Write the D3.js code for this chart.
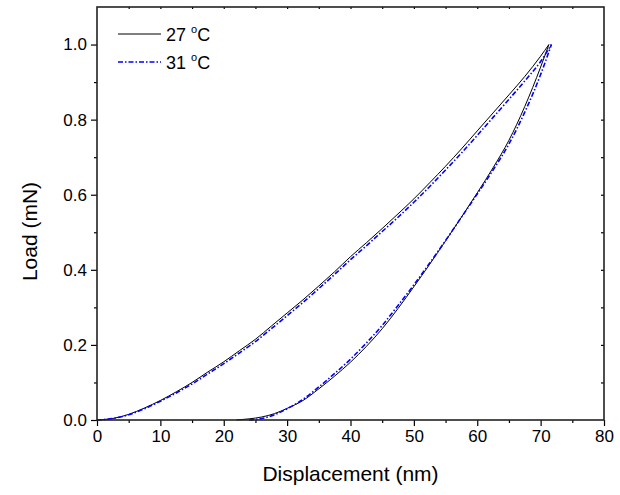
<!DOCTYPE html>
<html>
<head>
<meta charset="utf-8">
<script src="https://cdn.jsdelivr.net/npm/d3@7"></script>
<style>
  body { margin: 0; background: #fff; }
  text { font-family: "Liberation Sans", Arial, sans-serif; fill: #000; }
</style>
</head>
<body>
<div id="chart"></div>
<script>
const width = 620;
const height = 495;

// 27 °C loading / unloading, [displacement nm, load mN]
const load27 = [[0,0],[2.5,0.004],[5,0.015],[7.5,0.032],[10,0.052],[12.5,0.075],[15,0.1],[17.5,0.128],[20,0.155],[22.5,0.185],[25,0.215],[27.5,0.25],[30,0.285],[32.5,0.32],[35,0.357],[37.5,0.395],[40,0.435],[42.5,0.472],[45,0.51],[47.5,0.549],[50,0.589],[52.5,0.632],[55,0.676],[57.5,0.722],[60,0.77],[62.5,0.818],[65,0.866],[67.5,0.915],[70,0.969],[71.3,1.0]];
const unload27 = [[22,0],[24,0.003],[26,0.008],[28,0.017],[30,0.031],[32.5,0.052],[35,0.083],[37.5,0.117],[40,0.154],[42.5,0.196],[45,0.243],[47.5,0.297],[50,0.355],[52.5,0.415],[55,0.477],[57.5,0.54],[60,0.605],[62.5,0.672],[65,0.745],[67.5,0.835],[70,0.94],[71.3,1.0]];

// 31 °C
const load31 = [[0,0],[2.5,0.004],[5,0.014],[7.5,0.03],[10,0.05],[12.5,0.072],[15,0.096],[17.5,0.123],[20,0.15],[22.5,0.179],[25,0.209],[27.5,0.243],[30,0.278],[32.5,0.313],[35,0.35],[37.5,0.388],[40,0.427],[42.5,0.464],[45,0.502],[47.5,0.54],[50,0.58],[52.5,0.622],[55,0.666],[57.5,0.711],[60,0.758],[62.5,0.806],[65,0.854],[67.5,0.903],[70,0.955],[71.7,1.0]];
const unload31 = [[24,0],[26,0.004],[28,0.014],[30,0.03],[32.5,0.055],[35,0.088],[37.5,0.124],[40,0.162],[42.5,0.205],[45,0.252],[47.5,0.305],[50,0.36],[52.5,0.418],[55,0.478],[57.5,0.54],[60,0.602],[62.5,0.666],[65,0.735],[67.5,0.82],[70,0.92],[71.7,1.0]];

const xTicks = [0, 10, 20, 30, 40, 50, 60, 70, 80];
const yTicks = [0, 0.2, 0.4, 0.6, 0.8, 1.0];
const legendLabels = ["27 ", "31 "];

const margin = {left: 97, right: 16, top: 7, bottom: 75};

const svg = d3.select("#chart").append("svg")
    .attr("width", width)
    .attr("height", height);

const x = d3.scaleLinear().domain([0, 80]).range([margin.left, width - margin.right]);
const y = d3.scaleLinear().domain([0, 1.1]).range([height - margin.bottom, margin.top]);

const line = d3.line().x(d => x(d[0])).y(d => y(d[1])).curve(d3.curveMonotoneX);

// curves
[load27, unload27].forEach(d => {
    svg.append("path").datum(d)
        .attr("fill", "none").attr("stroke", "#000").attr("stroke-width", 1)
        .attr("d", line);
});
[load31, unload31].forEach(d => {
    svg.append("path").datum(d)
        .attr("fill", "none").attr("stroke", "#0000ff").attr("stroke-width", 1.6)
        .attr("stroke-dasharray", "5,2,1.5,2")
        .attr("d", line);
});

// axes
const x0 = x.range()[0], x1 = x.range()[1];
const y0 = y.range()[0], y1 = y.range()[1];

svg.append("g").attr("transform", `translate(0,${y0})`)
    .call(d3.axisBottom(x).tickValues(d3.range(5, 80, 10)).tickSize(3).tickFormat(""))
    .call(g => g.select(".domain").remove());
svg.append("g").attr("transform", `translate(0,${y0})`)
    .call(d3.axisBottom(x).tickValues(xTicks).tickSize(6).tickPadding(4).tickFormat(d3.format("d")))
    .call(g => g.select(".domain").remove())
    .call(g => g.selectAll("text").attr("font-size", 17));

svg.append("g").attr("transform", `translate(${x0},0)`)
    .call(d3.axisLeft(y).tickValues(d3.range(0.1, 1.1, 0.2)).tickSize(3).tickFormat(""))
    .call(g => g.select(".domain").remove());
svg.append("g").attr("transform", `translate(${x0},0)`)
    .call(d3.axisLeft(y).tickValues(yTicks).tickSize(6).tickPadding(4).tickFormat(d3.format(".1f")))
    .call(g => g.select(".domain").remove())
    .call(g => g.selectAll("text").attr("font-size", 17));

// mirrored small inward ticks on top and right
svg.append("g").attr("transform", `translate(0,${y1})`)
    .call(d3.axisBottom(x).tickValues(d3.range(5, 80, 5)).tickSize(2).tickFormat(""))
    .call(g => g.select(".domain").remove());
svg.append("g").attr("transform", `translate(${x1},0)`)
    .call(d3.axisLeft(y).tickValues(d3.range(0.1, 1.1, 0.1)).tickSize(3).tickFormat(""))
    .call(g => g.select(".domain").remove());

svg.selectAll(".tick line").attr("stroke", "#000").attr("stroke-width", 1.2);

// frame
svg.append("rect")
    .attr("x", x0).attr("y", y1)
    .attr("width", x1 - x0).attr("height", y0 - y1)
    .attr("fill", "none").attr("stroke", "#222").attr("stroke-width", 1.6);

// axis titles
svg.append("text")
    .attr("x", (x0 + x1) / 2).attr("y", 481)
    .attr("text-anchor", "middle").attr("font-size", 21)
    .text("Displacement (nm)");
svg.append("text")
    .attr("transform", `translate(37,${(y0 + y1) / 2 + 18}) rotate(-90)`)
    .attr("text-anchor", "middle").attr("font-size", 21)
    .text("Load (mN)");

// legend
const legend = svg.append("g");
const styles = [
    {stroke: "#000", width: 1, dash: null},
    {stroke: "#0000ff", width: 1.6, dash: "5,2,1.5,2"}
];
legendLabels.forEach((lab, i) => {
    const ly = 34 + i * 28;
    legend.append("line")
        .attr("x1", 118).attr("x2", 161).attr("y1", ly).attr("y2", ly)
        .attr("stroke", styles[i].stroke).attr("stroke-width", styles[i].width)
        .attr("stroke-dasharray", styles[i].dash);
    const t = legend.append("text").attr("x", 166).attr("y", ly + 7).attr("font-size", 18);
    t.append("tspan").text(lab);
    t.append("tspan").attr("font-size", 11).attr("dy", -8).text("o");
    t.append("tspan").attr("dy", 8).text("C");
});
</script>
</body>
</html>
